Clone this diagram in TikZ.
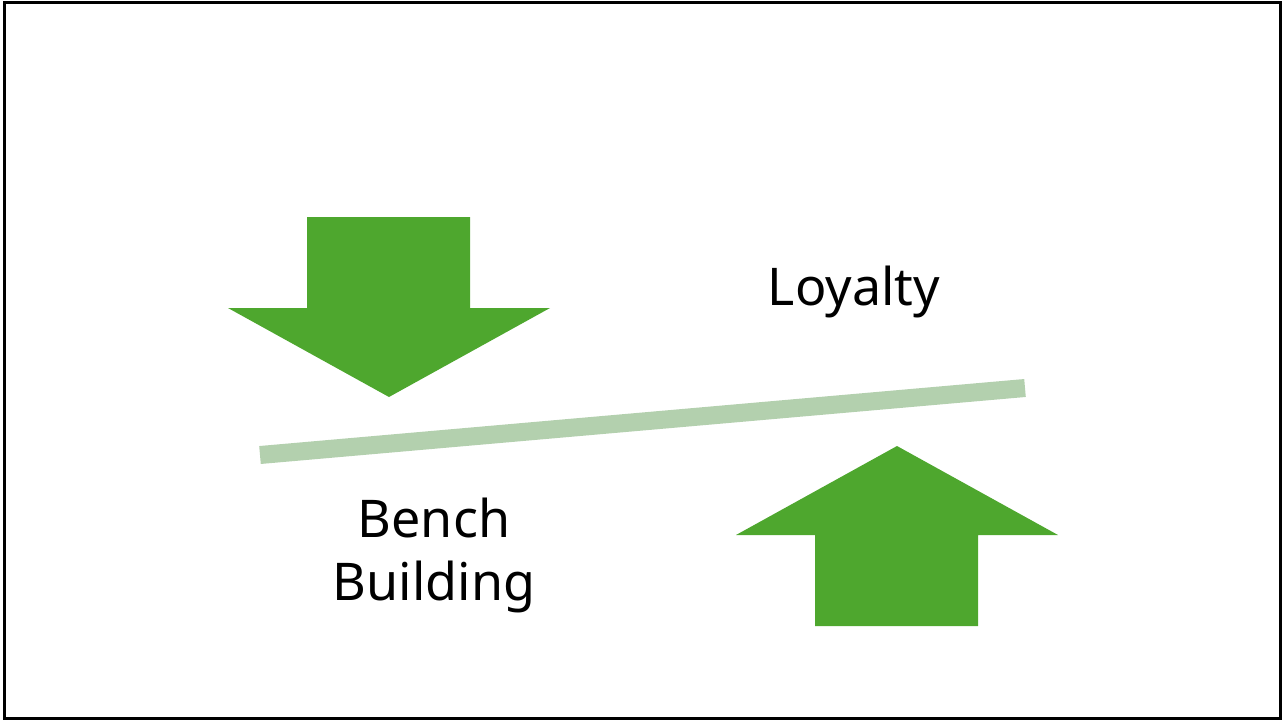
\documentclass[tikz,border=0pt]{standalone}
\usepackage{fontspec}
\setmainfont{Noto Sans}
\definecolor{arrowgreen}{HTML}{4EA72E}
\definecolor{barline}{HTML}{B3D0AE}

\begin{document}
\begin{tikzpicture}[x=1pt, y=-1pt,
    bigarrow/.style={fill=arrowgreen},
    seesaw/.style={draw=barline, line width=18pt},
    word/.style={font=\fontsize{52}{63}\selectfont, align=center, inner sep=0pt}]

  \useasboundingbox (0,0) rectangle (1283,721);
  \draw[line width=3pt] (4.5,2.5) rectangle (1280.5,718);

  % arrow pushing down on the left end
  \fill[bigarrow] (307,217) -- (470,217) -- (470,308) -- (550,308) -- (389,397)
    -- (228,308) -- (307,308) -- cycle;
  % arrow pushing up on the right end
  \fill[bigarrow] (815,626) -- (978,626) -- (978,535) -- (1058,535) -- (897,446)
    -- (736,535) -- (815,535) -- cycle;

  \draw[seesaw] (260,455) -- (1025,388);

  \node[word, anchor=base] (loyalty) at (854,305) {Loyalty};
  \node[word, anchor=base] (bench) at (434,600) {Bench\\Building};
\end{tikzpicture}
\end{document}
